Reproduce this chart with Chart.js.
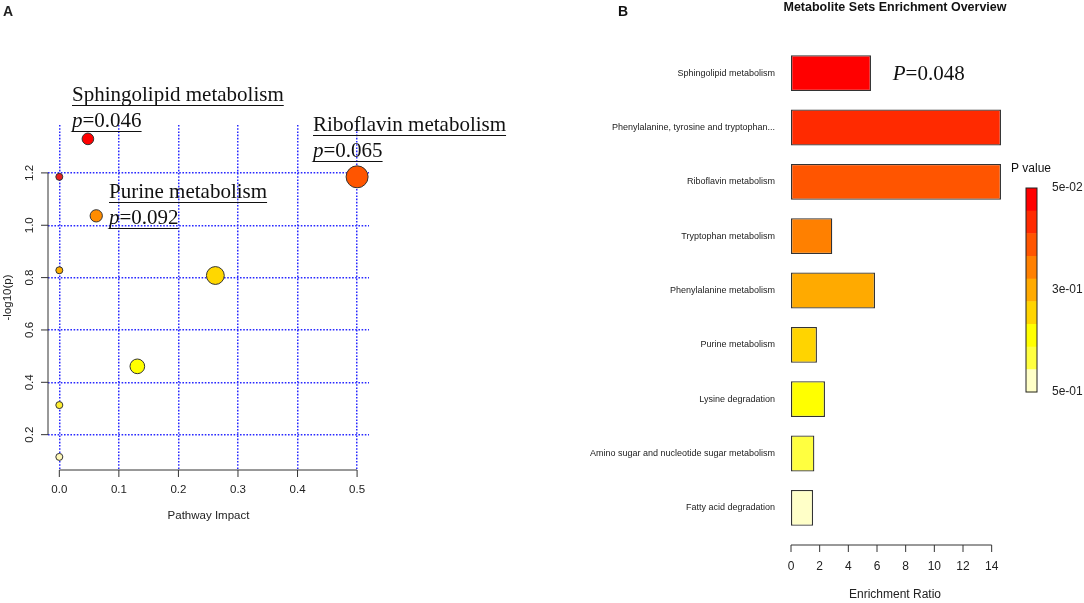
<!DOCTYPE html>
<html>
<head>
<meta charset="utf-8">
<script src="https://cdn.jsdelivr.net/npm/chart.js@4.4.1/dist/chart.umd.min.js"></script>
<style>
  html, body { margin: 0; padding: 0; background: #fff; }
  #wrap { position: relative; width: 1084px; height: 603px; overflow: hidden; }
  canvas { position: absolute; top: 0; }
  #chartA { left: 0; }
  #chartB { left: 560px; }
</style>
</head>
<body>
<div id="wrap">
  <canvas id="chartA" width="540" height="603"></canvas>
  <canvas id="chartB" width="524" height="603"></canvas>
</div>
<script>
// --- Panel A: pathway impact vs -log10(p) ---
const pathwayNames = [
  'Sphingolipid metabolism',
  'Phenylalanine, tyrosine and tryptophan biosynthesis',
  'Riboflavin metabolism',
  'Purine metabolism',
  'Phenylalanine metabolism',
  'Tryptophan metabolism',
  'Lysine degradation',
  'Amino sugar and nucleotide sugar metabolism',
  'Fatty acid degradation'
];
const pathwayImpact = [0.048, 0.0, 0.5, 0.062, 0.0, 0.262, 0.131, 0.0, 0.0];
const pathwayLogP = [1.33, 1.185, 1.185, 1.036, 0.828, 0.808, 0.461, 0.313, 0.115];
const impactTicks = [0, 0.1, 0.2, 0.3, 0.4, 0.5];
const logPTicks = [0.2, 0.4, 0.6, 0.8, 1.0, 1.2];
const labelledPathways = ['Sphingolipid metabolism', 'Riboflavin metabolism', 'Purine metabolism'];
const labelledP = ['0.046', '0.065', '0.092'];

// --- Panel B: enrichment overview ---
const setNames = [
  'Sphingolipid metabolism',
  'Phenylalanine, tyrosine and tryptophan...',
  'Riboflavin metabolism',
  'Tryptophan metabolism',
  'Phenylalanine metabolism',
  'Purine metabolism',
  'Lysine degradation',
  'Amino sugar and nucleotide sugar metabolism',
  'Fatty acid degradation'
];
const enrichmentRatio = [5.58, 14.65, 14.65, 2.88, 5.86, 1.81, 2.37, 1.63, 1.54];
const ratioTicks = [0, 2, 4, 6, 8, 10, 12, 14];
const topSetP = '0.048';
const pLegendTicks = ['5e-02', '3e-01', '5e-01'];

// colours
const bubbleColors = ['#FF0000', '#E82020', '#FF5500', '#FF8C00', '#FFB000', '#FFD700', '#FFFF00', '#FFEE30', '#FFF8B8'];
const barColors = ['#FF0000', '#FF2A00', '#FF5500', '#FF8000', '#FFAA00', '#FFD400', '#FFFF00', '#FFFF40', '#FFFFC8'];
const legendColors = ['#FF0000', '#FF2A00', '#FF5500', '#FF8000', '#FFAA00', '#FFD400', '#FFFF00', '#FFFF40', '#FFFFC8'];

const SANS = '"Liberation Sans", Arial, sans-serif';
const SERIF = '"Liberation Serif", "Times New Roman", serif';

// text with an italic first letter, underlined
function drawUnderlined(ctx, parts, x, y, size) {
  let cx = x;
  parts.forEach(p => {
    ctx.font = (p.italic ? 'italic ' : '') + size + 'px ' + SERIF;
    ctx.fillText(p.text, cx, y);
    cx += ctx.measureText(p.text).width;
  });
  ctx.beginPath();
  ctx.moveTo(x, y + 4.5);
  ctx.lineTo(cx, y + 4.5);
  ctx.stroke();
}

const panelA = {
  id: 'panelA',
  afterDraw(chart) {
    const { ctx, chartArea: ca, scales: { x, y } } = chart;
    ctx.save();
    ctx.strokeStyle = '#333';
    ctx.fillStyle = '#222';
    ctx.lineWidth = 1;

    // x axis, R style
    const x0 = x.getPixelForValue(impactTicks[0]);
    const x1 = x.getPixelForValue(impactTicks[impactTicks.length - 1]);
    ctx.beginPath();
    ctx.moveTo(x0, ca.bottom);
    ctx.lineTo(x1, ca.bottom);
    impactTicks.forEach(v => {
      const px = x.getPixelForValue(v);
      ctx.moveTo(px, ca.bottom);
      ctx.lineTo(px, ca.bottom + 7);
    });
    // y axis
    const y0 = y.getPixelForValue(logPTicks[0]);
    const y1 = y.getPixelForValue(logPTicks[logPTicks.length - 1]);
    ctx.moveTo(ca.left, y0);
    ctx.lineTo(ca.left, y1);
    logPTicks.forEach(v => {
      const py = y.getPixelForValue(v);
      ctx.moveTo(ca.left, py);
      ctx.lineTo(ca.left - 7, py);
    });
    ctx.stroke();

    ctx.font = '11.5px ' + SANS;
    ctx.textAlign = 'center';
    ctx.textBaseline = 'middle';
    impactTicks.forEach(v => ctx.fillText(v.toFixed(1), x.getPixelForValue(v), ca.bottom + 20));
    ctx.fillText('Pathway Impact', (ca.left + ca.right) / 2, ca.bottom + 46);
    logPTicks.forEach(v => {
      ctx.save();
      ctx.translate(ca.left - 18, y.getPixelForValue(v));
      ctx.rotate(-Math.PI / 2);
      ctx.fillText(v.toFixed(1), 0, 0);
      ctx.restore();
    });
    ctx.save();
    ctx.translate(8, (ca.top + ca.bottom) / 2);
    ctx.rotate(-Math.PI / 2);
    ctx.fillText('-log10(p)', 0, 0);
    ctx.restore();

    // panel letter
    ctx.font = 'bold 14px ' + SANS;
    ctx.textAlign = 'left';
    ctx.fillText('A', 3, 12);

    // annotations
    ctx.textBaseline = 'alphabetic';
    ctx.fillStyle = '#111';
    ctx.strokeStyle = '#111';
    const spots = [[72, 101, 127], [313, 131, 157], [109, 198, 224]];
    labelledPathways.forEach((name, i) => {
      const [lx, ly1, ly2] = spots[i];
      drawUnderlined(ctx, [{ text: name }], lx, ly1, 21);
      drawUnderlined(ctx, [{ text: 'p', italic: true }, { text: '=' + labelledP[i] }], lx, ly2, 21);
    });
    ctx.restore();
  }
};

new Chart(document.getElementById('chartA'), {
  type: 'bubble',
  data: {
    datasets: [{
      label: 'Pathways',
      data: pathwayImpact.map((v, i) => ({ x: v, y: pathwayLogP[i], name: pathwayNames[i] })),
      backgroundColor: bubbleColors,
      borderColor: '#333',
      borderWidth: 1,
      radius: c => 3.5 + 10.6 * Math.sqrt(c.raw ? c.raw.x : 0)
    }]
  },
  options: {
    responsive: false,
    animation: false,
    layout: { padding: { left: 48, top: 125, right: 171, bottom: 133 } },
    plugins: { legend: { display: false }, tooltip: { enabled: false } },
    scales: {
      x: {
        type: 'linear',
        min: -0.019,
        max: 0.52,
        afterBuildTicks: s => { s.ticks = impactTicks.map(v => ({ value: v })); },
        grid: { color: '#2828FF', lineWidth: 1.5, drawTicks: false },
        border: { display: false, dash: [1.6, 1.6] },
        ticks: { display: false }
      },
      y: {
        type: 'linear',
        min: 0.065,
        max: 1.383,
        afterBuildTicks: s => { s.ticks = logPTicks.map(v => ({ value: v })); },
        grid: { color: '#2828FF', lineWidth: 1.5, drawTicks: false },
        border: { display: false, dash: [1.6, 1.6] },
        ticks: { display: false }
      }
    }
  },
  plugins: [panelA]
});

const panelB = {
  id: 'panelB',
  afterDraw(chart) {
    const { ctx, chartArea: ca, scales: { x, y } } = chart;
    ctx.save();
    ctx.fillStyle = '#111';
    ctx.strokeStyle = '#333';
    ctx.lineWidth = 1;

    // title and letter
    ctx.textBaseline = 'middle';
    ctx.textAlign = 'center';
    ctx.font = 'bold 12.5px ' + SANS;
    ctx.fillText('Metabolite Sets Enrichment Overview', 335, 8);
    ctx.font = 'bold 14px ' + SANS;
    ctx.fillText('B', 63, 12);

    // x axis, R style, slightly below the bars
    const ay = ca.bottom + 10;
    const x0 = x.getPixelForValue(ratioTicks[0]);
    const x1 = x.getPixelForValue(ratioTicks[ratioTicks.length - 1]);
    ctx.beginPath();
    ctx.moveTo(x0, ay);
    ctx.lineTo(x1, ay);
    ratioTicks.forEach(v => {
      const px = x.getPixelForValue(v);
      ctx.moveTo(px, ay);
      ctx.lineTo(px, ay + 7);
    });
    ctx.stroke();
    ctx.fillStyle = '#222';
    ctx.font = '12px ' + SANS;
    ratioTicks.forEach(v => ctx.fillText(String(v), x.getPixelForValue(v), ay + 22));
    ctx.fillText('Enrichment Ratio', 335, ay + 50);

    // p value of the top set
    ctx.textAlign = 'left';
    ctx.textBaseline = 'alphabetic';
    ctx.fillStyle = '#111';
    let px = x.getPixelForValue(7.1);
    const py = y.getPixelForValue(0) + 7;
    ctx.font = 'italic 21px ' + SERIF;
    ctx.fillText('P', px, py);
    px += ctx.measureText('P').width;
    ctx.font = '21px ' + SERIF;
    ctx.fillText('=' + topSetP, px, py);

    // colour key
    ctx.textBaseline = 'middle';
    ctx.font = '12px ' + SANS;
    ctx.fillText('P value', 451, 169);
    const kx = 466, kw = 11, ktop = 188, kh = 204;
    const seg = kh / legendColors.length;
    legendColors.forEach((c, i) => {
      ctx.fillStyle = c;
      ctx.fillRect(kx, ktop + i * seg, kw, seg + 0.5);
    });
    ctx.strokeStyle = '#222';
    ctx.strokeRect(kx, ktop, kw, kh);
    ctx.fillStyle = '#222';
    pLegendTicks.forEach((t, i) => {
      ctx.fillText(t, 492, ktop + kh * i / (pLegendTicks.length - 1));
    });
    ctx.restore();
  }
};

new Chart(document.getElementById('chartB'), {
  type: 'bar',
  data: {
    labels: setNames,
    datasets: [{
      label: 'Enrichment Ratio',
      data: enrichmentRatio,
      backgroundColor: barColors,
      borderColor: '#333',
      borderWidth: 1.3,
      borderSkipped: false,
      barPercentage: 0.66,
      categoryPercentage: 1
    }]
  },
  options: {
    indexAxis: 'y',
    responsive: false,
    animation: false,
    layout: { padding: { left: 0, top: 46, right: 78, bottom: 68 } },
    plugins: { legend: { display: false }, tooltip: { enabled: false } },
    scales: {
      x: {
        min: 0,
        max: 15,
        grid: { display: false, drawTicks: false },
        border: { display: false },
        ticks: { display: false }
      },
      y: {
        grid: { display: false, drawTicks: false },
        border: { display: false },
        ticks: { color: '#222', padding: 16, autoSkip: false, font: { size: 9, family: SANS } },
        afterFit: s => { s.width = 231; }
      }
    }
  },
  plugins: [panelB]
});
</script>
</body>
</html>
